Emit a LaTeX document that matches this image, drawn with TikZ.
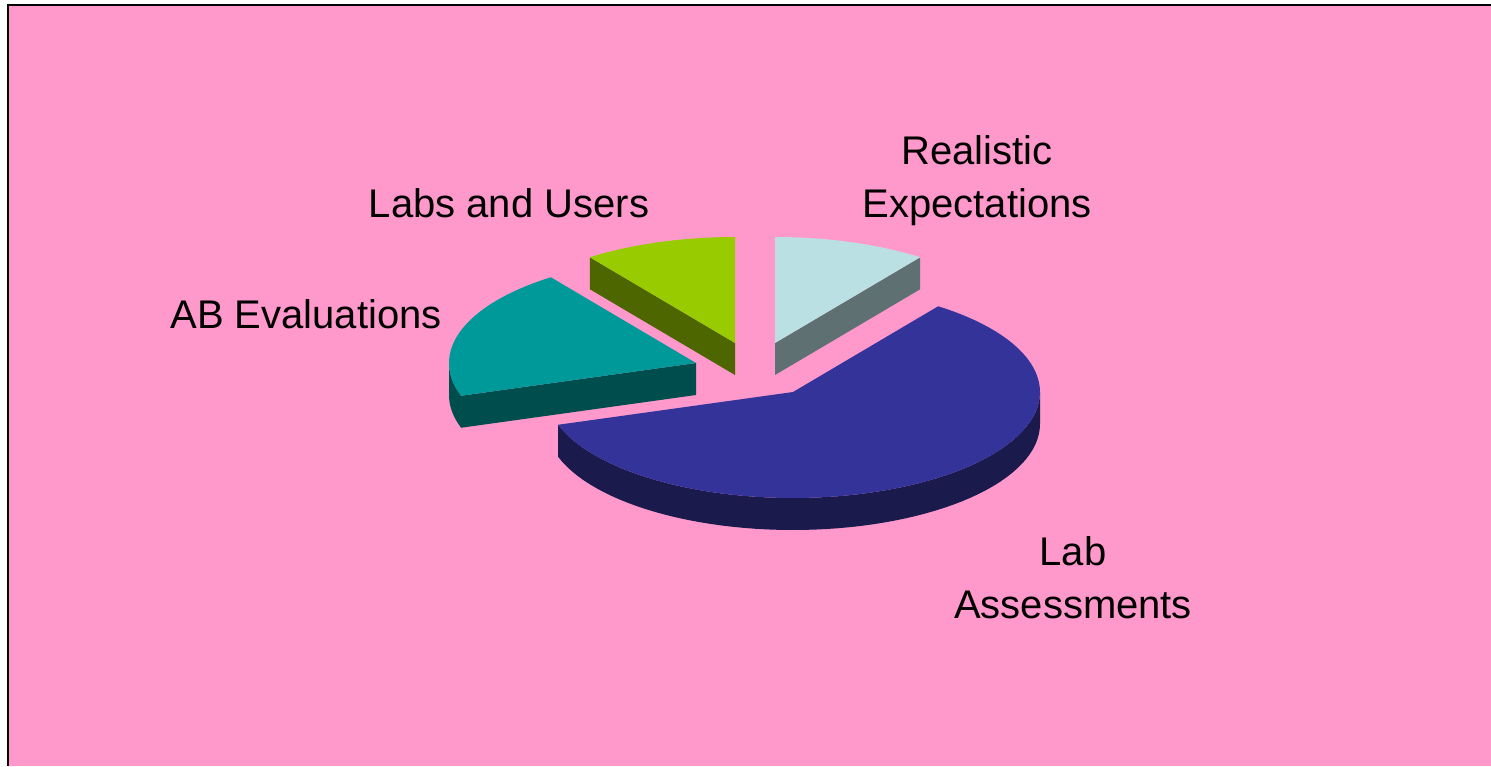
\documentclass[tikz,border=0pt]{standalone}
\usepackage{fontspec}
\setmainfont{Liberation Sans}
\definecolor{bgpink}{HTML}{FF99CC}
\definecolor{bluetop}{HTML}{333399}
\definecolor{blueside}{HTML}{1A1A4D}
\definecolor{tealtop}{HTML}{009999}
\definecolor{tealside}{HTML}{004D4D}
\definecolor{greentop}{HTML}{99CC00}
\definecolor{greenside}{HTML}{4D6600}
\definecolor{cyantop}{HTML}{BBE0E3}
\definecolor{cyanside}{HTML}{5E7072}
\begin{document}
\begin{tikzpicture}[x=0.5pt,y=-0.5pt,
  lbl/.style={font=\fontsize{20}{26.25}\selectfont, align=center, inner sep=0pt, anchor=base}]
\useasboundingbox (0,0) rectangle (1491,766);
\clip (0,0) rectangle (1491,766);
\fill[white] (0,0) rectangle (1491,766);
\fill[bgpink] (8,5) rectangle (1491,766);
\draw[line width=1pt] (8,766) -- (8,5) -- (1491,5);
% realistic expectations
\fill[cyanside] (775,343) -- ({775+247*cos(54)},{343-106*sin(54)}) -- ++(0,32) -- (775,375) -- cycle;
\fill[cyantop] (775,343) -- plot[domain=54:90,samples=20] ({775+247*cos(\x)},{343-106*sin(\x)}) -- cycle;
% labs and users
\fill[greenside] (735,343) -- ({735+247*cos(126)},{343-106*sin(126)}) -- ++(0,32) -- (735,375) -- cycle;
\fill[greentop] (735,343) -- plot[domain=90:126,samples=20] ({735+247*cos(\x)},{343-106*sin(\x)}) -- cycle;
% ab evaluations
\fill[tealside] (696,363) -- ({696+247*cos(198)},{363-106*sin(198)}) -- ++(0,32) -- (696,395) -- cycle;
\fill[tealside] plot[domain=180:198,samples=10] ({696+247*cos(\x)},{363-106*sin(\x)})
  -- plot[domain=198:180,samples=10] ({696+247*cos(\x)},{395-106*sin(\x)}) -- cycle;
\fill[tealtop] (696,363) -- plot[domain=126:198,samples=30] ({696+247*cos(\x)},{363-106*sin(\x)}) -- cycle;
% lab assessments
\fill[blueside] plot[domain=198:360,samples=60] ({793+247*cos(\x)},{392-106*sin(\x)})
  -- plot[domain=360:198,samples=60] ({793+247*cos(\x)},{424-106*sin(\x)}) -- cycle;
\fill[bluetop] (793,392) -- plot[domain=198:414,samples=80] ({793+247*cos(\x)},{392-106*sin(\x)}) -- cycle;
% labels
\node[lbl] (realistic) at (977,217) {Realistic\\Expectations};
\node[lbl] (labsusers) at (509,217) {Labs and Users};
\node[lbl] (abeval) at (306,328) {AB Evaluations};
\node[lbl] (labassess) at (1073,618) {Lab\\Assessments};
\end{tikzpicture}
\end{document}
